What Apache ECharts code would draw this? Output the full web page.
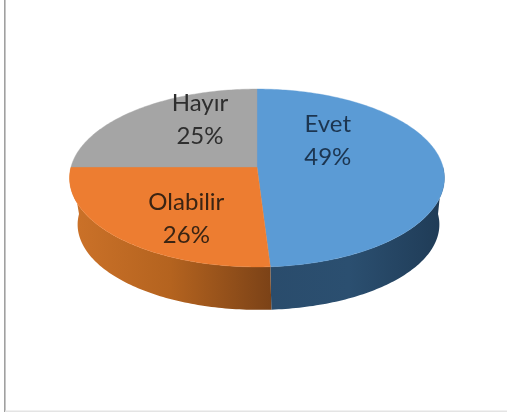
<!DOCTYPE html>
<html>
<head>
<meta charset="utf-8">
<style>html,body{margin:0;padding:0;background:#fff}#c{width:507px;height:412px}</style>
<script src="https://cdn.jsdelivr.net/npm/echarts@6/dist/echarts.min.js"></script>
</head>
<body>
<div id="c"></div>
<script>
const categories = ['Evet', 'Olabilir', 'Hayır'];
const percents = [49, 26, 25];

const topColors = ['#5b9bd5', '#ed7d31', '#a5a5a5'];
const wallStops = [
  [['#2a4c6c', 0], ['#2b4f70', 0.45], ['#1f3b56', 1]],
  [['#cc7229', 0], ['#b4631f', 0.5], ['#7b4217', 1]],
  null
];
const labelColors = ['#1c3550', '#3a2413', '#2e2e2e'];
const labelOffsets = [[-22, -25], [-4, 18], [6, -18]];

const topDisc = { cx: 257, cy: 167, rx: 186, ry: 87.6 };
const baseDisc = { cx: 258.5, cy: 214, rx: 179.5, ry: 84 };
const persp = 0.1236;
const wallLimits = [90, 270];

function project(disc, deg, frac) {
  const t = deg * Math.PI / 180;
  const x = Math.sin(t) * frac, y = -Math.cos(t) * frac;
  const w = 1 - persp * y;
  return [disc.cx + disc.rx * x / w, disc.cy + disc.ry * y / w];
}
function arc(disc, from, to) {
  const pts = [];
  const n = Math.max(2, Math.ceil(Math.abs(to - from)));
  for (let i = 0; i <= n; i++) pts.push(project(disc, from + (to - from) * i / n, 1));
  return pts;
}

const total = percents.reduce((a, b) => a + b, 0);
function sliceRange(i) {
  let s = 0;
  for (let k = 0; k < i; k++) s += percents[k];
  return [s / total * 360, (s + percents[i]) / total * 360];
}

function renderItem(params, api) {
  const i = params.dataIndex;
  const [a, b] = sliceRange(i);
  const children = [];
  const wa = Math.max(a, wallLimits[0]), wb = Math.min(b, wallLimits[1]);
  if (wb > wa && wallStops[i]) {
    const pts = arc(topDisc, wa, wb).concat(arc(baseDisc, wb, wa));
    children.push({
      type: 'polygon',
      shape: { points: pts },
      style: {
        fill: new echarts.graphic.LinearGradient(0, 0, 1, 0,
          wallStops[i].map(s => ({ color: s[0], offset: s[1] })))
      }
    });
  }
  const top = [[topDisc.cx, topDisc.cy]].concat(arc(topDisc, a, b));
  children.push({
    type: 'polygon',
    shape: { points: top },
    style: { fill: topColors[i], stroke: topColors[i], lineWidth: 0.4 }
  });
  const anchor = project(topDisc, (a + b) / 2, 0.5);
  children.push({
    type: 'text',
    z2: 10,
    style: {
      x: anchor[0] + labelOffsets[i][0],
      y: anchor[1] + labelOffsets[i][1],
      text: categories[i] + '\n' + percents[i] + '%',
      fill: labelColors[i],
      font: '24px Lato',
      lineHeight: 33,
      align: 'center',
      verticalAlign: 'middle'
    }
  });
  return { type: 'group', children };
}

const chart = echarts.init(document.getElementById('c'), null, { renderer: 'canvas' });
chart.setOption({
  animation: false,
  backgroundColor: '#ffffff',
  graphic: [
    { type: 'rect', shape: { x: 4, y: 0, width: 1.6, height: 412 }, style: { fill: '#a0a0a0' } },
    { type: 'rect', shape: { x: 5, y: 410.5, width: 502, height: 1.5 }, style: { fill: '#e4e4e4' } }
  ],
  series: [{
    type: 'custom',
    coordinateSystem: 'none',
    renderItem,
    data: percents.map((v, i) => ({ name: categories[i], value: v }))
  }]
});
</script>
</body>
</html>
